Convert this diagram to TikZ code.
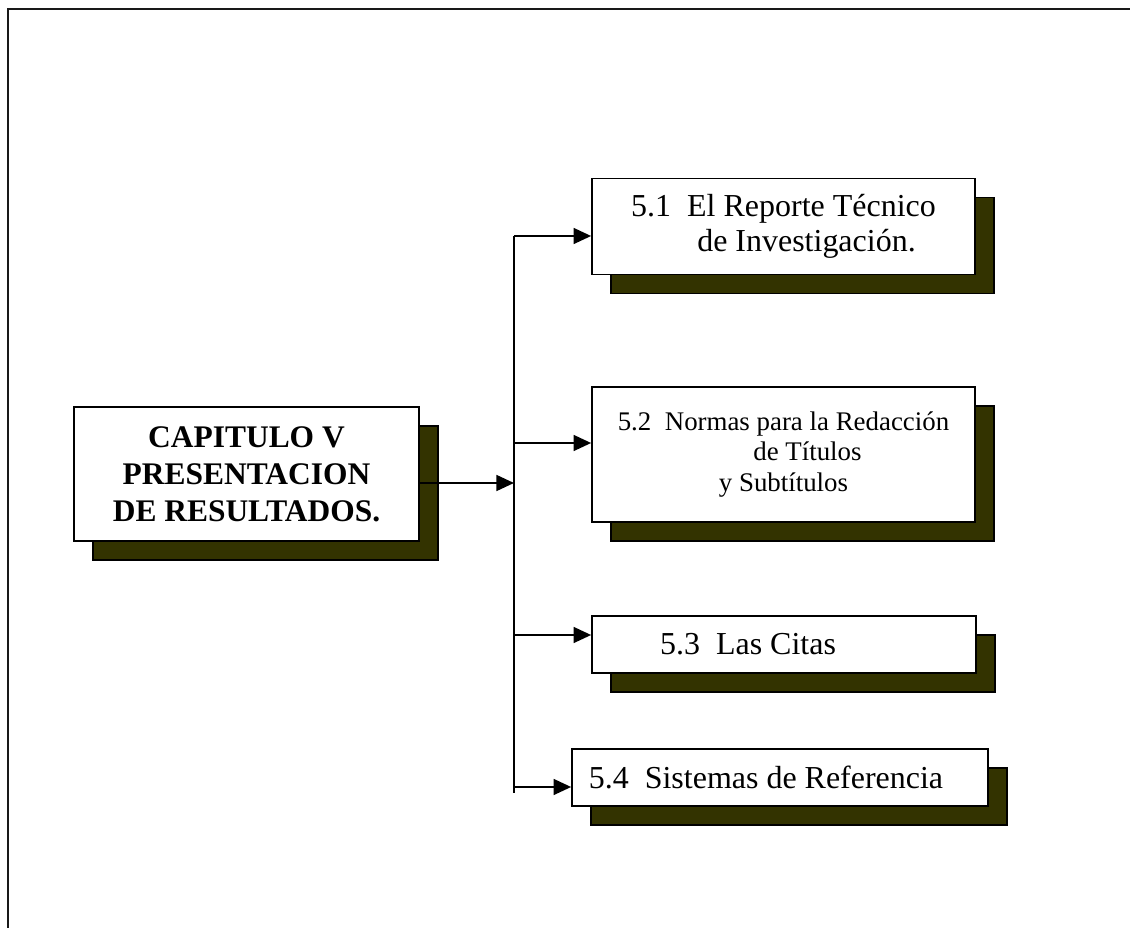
\documentclass[tikz,border=0pt]{standalone}
\usepackage{fontspec}
\setmainfont{Liberation Serif}
\usetikzlibrary{positioning}
\usetikzlibrary{arrows.meta}
\usetikzlibrary{shadows}
\definecolor{olivesh}{HTML}{333300}
\tikzset{
    boxn/.style = {rectangle, draw=black, line width=1pt, fill=white, align=center, inner sep=0pt,
        drop shadow={shadow xshift=0.38cm, shadow yshift=-0.38cm, fill=olivesh, draw=black, line width=1pt, opacity=1}},
    boxm/.style = {boxn, font=\bfseries\fontsize{17.9}{21}\selectfont},
    boxt/.style = {boxn, font=\fontsize{18.2}{20}\selectfont},
    boxs/.style = {boxn, font=\fontsize{15.3}{17.6}\selectfont},
    edgen/.style = {-, line width=0.9pt, black},
    edgea/.style = {-{Triangle[length=10pt,width=9pt]}, line width=1.2pt, black},
    framen/.style = {-, line width=1.4pt, black!90}, % page frame
}

\begin{document}
\begin{tikzpicture}[x=0.02cm, y=-0.02cm]
\path[use as bounding box] (0,0) rectangle (1130,928);
\draw[framen] (8,928) -- (8,9) -- (1130,9);
%
\node[boxm, minimum width=6.9cm, minimum height=2.68cm] at (246.5,474) (cap) {CAPITULO V\\PRESENTACION\\DE RESULTADOS.};
\node[boxt, minimum width=7.66cm, minimum height=1.92cm] at (783.5,226.5) (n51) {5.1\ \ El Reporte Técnico\\\hspace*{0.92cm}de Investigación.};
\node[boxs, minimum width=7.66cm, minimum height=2.7cm] at (783.5,454.5) (n52) {5.2\ \ Normas para la Redacción\\\hspace*{0.96cm}de Títulos\\y Subtítulos};
\node[boxt, minimum width=7.68cm, minimum height=1.14cm] at (784,644.5) (n53) {5.3\ \ Las Citas\hspace*{1.44cm}};
\node[boxt, minimum width=8.32cm, minimum height=1.14cm] at (780,777.5) (n54) {5.4\ \ Sistemas de Referencia\hspace*{0.56cm}};
%
\coordinate (bt) at (514,236);
\coordinate (bm) at (514,483);
\coordinate (b2) at (514,443);
\coordinate (b3) at (514,635);
\coordinate (b4) at (514,787);
\coordinate (bb) at (514,793);
%
\draw[edgen] (bt) -- (bb);
\draw[edgea] (cap.east |- bm) -- (bm);
\draw[edgea] (bt) -- (bt -| n51.west);
\draw[edgea] (b2) -- (b2 -| n52.west);
\draw[edgea] (b3) -- (b3 -| n53.west);
\draw[edgea] (b4) -- (b4 -| n54.west);
\end{tikzpicture}
\end{document}
